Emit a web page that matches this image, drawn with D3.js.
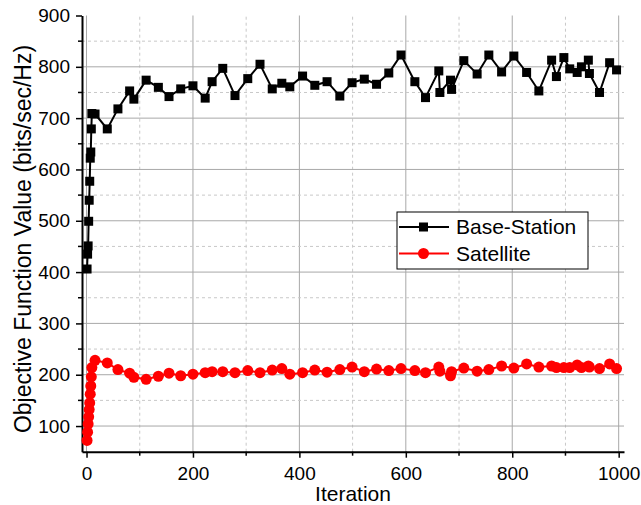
<html>
<head>
    <meta charset="utf-8">
    <script src="https://d3js.org/d3.v7.min.js"></script>
    <style>
        body { margin: 0; background: #fff; }
        text { font-family: "Liberation Sans", Arial, sans-serif; fill: #000; }
    </style>
</head>
<body>
<svg id="chart" width="641" height="505"></svg>
<script>
    // iteration numbers shared by both series
    let iters = [1,2,3,4,5,6,7,8,9,10,16,39,59,81,89,112,135,155,177,200,223,236,256,279,303,
        326,349,367,382,406,429,452,476,499,522,545,568,591,617,637,662,664,684,686,709,734,756,
        780,803,827,850,874,883,897,908,922,930,943,945,964,983,996]

    let baseStation = [406,435,451,499,540,577,622,634,679,709,708,679,718,753,737,774,760,742,757,763,
        739,771,797,744,777,805,757,768,761,782,764,771,743,769,776,766,788,823,771,740,
        792,750,774,756,812,786,823,790,821,789,753,813,781,818,796,789,800,813,787,750,808,794]

    let satellite = [72,88,104,118,132,145,162,178,196,214,228,223,210,203,195,191,197,203,198,201,
        204,206,206,204,208,204,209,212,201,204,209,205,210,215,206,211,208,212,208,204,
        215,207,198,206,213,207,210,217,213,221,215,217,214,214,214,219,214,217,215,212,221,212]

    let xTicks = [0, 200, 400, 600, 800, 1000]
    let xMinor = [100, 300, 500, 700, 900]
    let yTicks = [100, 200, 300, 400, 500, 600, 700, 800, 900]
    let yMinor = [150, 250, 350, 450, 550, 650, 750, 850]

    let series = [
        {name: "Base-Station", values: baseStation, color: "#000", shape: "square"},
        {name: "Satellite", values: satellite, color: "#ff0000", shape: "circle"}
    ]

    let svg = d3.select("#chart"),
        margin = {top: 15.5, left: 82, bottom: 53.3, right: 17},
        width = +svg.attr("width"),
        height = +svg.attr("height");

    let x = d3.scaleLinear()
        .domain([-8.5, 1010])
        .range([margin.left, width - margin.right])

    let y = d3.scaleLinear()
        .domain([50, 900])
        .range([height - margin.bottom, margin.top])

    // grid
    let grid = svg.append("g")
    grid.selectAll(".vmaj").data(xTicks).enter().append("line")
        .attr("x1", d => x(d)).attr("x2", d => x(d))
        .attr("y1", y(50)).attr("y2", y(900))
        .attr("stroke", "#a8a8a8").attr("stroke-width", 1)
    grid.selectAll(".vmin").data(xMinor).enter().append("line")
        .attr("x1", d => x(d)).attr("x2", d => x(d))
        .attr("y1", y(50)).attr("y2", y(900))
        .attr("stroke", "#c8c8c8").attr("stroke-width", 1).attr("stroke-dasharray", "3,3")
    grid.selectAll(".hmaj").data(yTicks.filter(d => d < 900)).enter().append("line")
        .attr("x1", x.range()[0]).attr("x2", x.range()[1])
        .attr("y1", d => y(d)).attr("y2", d => y(d))
        .attr("stroke", "#a8a8a8").attr("stroke-width", 1)
    grid.selectAll(".hmin").data(yMinor).enter().append("line")
        .attr("x1", x.range()[0]).attr("x2", x.range()[1])
        .attr("y1", d => y(d)).attr("y2", d => y(d))
        .attr("stroke", "#c8c8c8").attr("stroke-width", 1).attr("stroke-dasharray", "3,3")

    // axes
    let xAxis = svg.append("g")
        .attr("transform", `translate(0,${y(50)})`)
        .call(d3.axisBottom(x).tickValues(xTicks).tickFormat(d3.format("d"))
            .tickSize(6).tickSizeOuter(0).tickPadding(9))
    xAxis.append("g").selectAll("line").data(xMinor).enter().append("line")
        .attr("x1", d => x(d)).attr("x2", d => x(d)).attr("y1", 0).attr("y2", 4)
        .attr("stroke", "#000").attr("stroke-width", 1.5)

    let yAxis = svg.append("g")
        .attr("transform", `translate(${x(-8.5)},0)`)
        .call(d3.axisLeft(y).tickValues(yTicks).tickFormat(d3.format("d"))
            .tickSize(6).tickSizeOuter(0).tickPadding(6))
    yAxis.append("g").selectAll("line").data(yMinor).enter().append("line")
        .attr("y1", d => y(d)).attr("y2", d => y(d)).attr("x1", 0).attr("x2", -4)
        .attr("stroke", "#000").attr("stroke-width", 1.5)

    svg.selectAll(".domain").attr("stroke", "#000").attr("stroke-width", 2)
    svg.selectAll(".tick line").attr("stroke", "#000").attr("stroke-width", 1.5)
    svg.selectAll(".tick text").style("font-size", "19px")
        .style("font-family", "'Liberation Sans', Arial, sans-serif")

    // axis titles
    svg.append("text")
        .attr("x", (x.range()[0] + x.range()[1]) / 2)
        .attr("y", 501)
        .attr("text-anchor", "middle")
        .style("font-size", "21px")
        .text("Iteration")

    svg.append("text")
        .attr("transform", "translate(31,239) rotate(-90)")
        .attr("text-anchor", "middle")
        .style("font-size", "23px")
        .text("Objective Function Value (bits/sec/Hz)")

    // series
    let line = d3.line()
        .x((d, i) => x(iters[i]))
        .y(d => y(d))

    series.forEach(s => {
        let g = svg.append("g")
        g.append("path")
            .datum(s.values)
            .attr("fill", "none")
            .attr("stroke", s.color)
            .attr("stroke-width", 2)
            .attr("d", line)
        if (s.shape == "square") {
            g.selectAll("rect").data(s.values).enter().append("rect")
                .attr("x", (d, i) => x(iters[i]) - 4.5)
                .attr("y", d => y(d) - 4.5)
                .attr("width", 9).attr("height", 9)
                .attr("fill", s.color)
        } else {
            g.selectAll("circle").data(s.values).enter().append("circle")
                .attr("cx", (d, i) => x(iters[i]))
                .attr("cy", d => y(d))
                .attr("r", 5.5)
                .attr("fill", s.color)
        }
    })

    // legend
    let legend = svg.append("g").attr("transform", "translate(397,212)")
    legend.append("rect")
        .attr("width", 191).attr("height", 57)
        .attr("fill", "#fff").attr("stroke", "#000").attr("stroke-width", 1)

    series.forEach((s, i) => {
        let ly = 15 + i * 26.5
        legend.append("line")
            .attr("x1", 2).attr("x2", 52).attr("y1", ly).attr("y2", ly)
            .attr("stroke", s.color).attr("stroke-width", 2)
        if (s.shape == "square") {
            legend.append("rect").attr("x", 22).attr("y", ly - 4.5)
                .attr("width", 9).attr("height", 9).attr("fill", s.color)
        } else {
            legend.append("circle").attr("cx", 26.5).attr("cy", ly).attr("r", 5.5).attr("fill", s.color)
        }
        legend.append("text")
            .attr("x", 59).attr("y", ly)
            .attr("dy", "0.35em")
            .style("font-size", "21px")
            .text(s.name)
    })
</script>
</body>
</html>
